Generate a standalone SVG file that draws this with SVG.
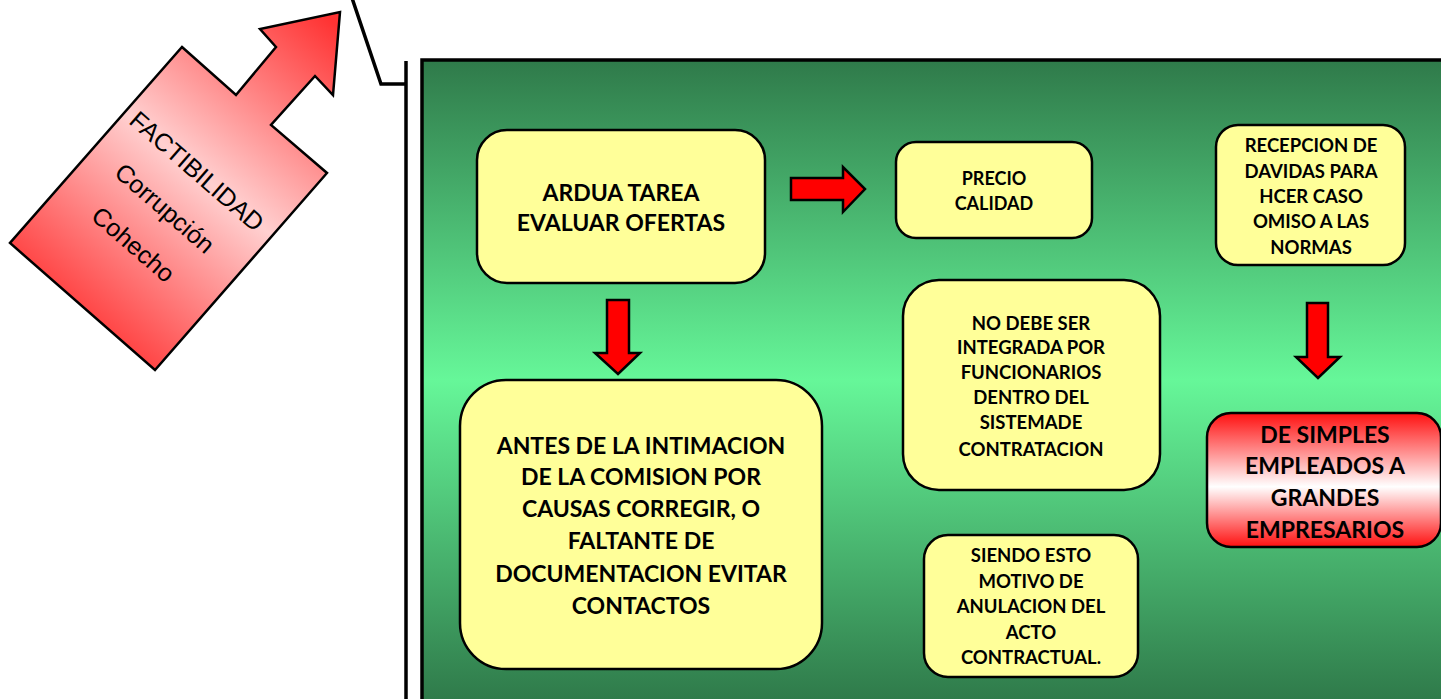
<svg xmlns="http://www.w3.org/2000/svg" width="1441" height="699" viewBox="0 0 1441 699">
<defs>
<linearGradient id="gGreen" x1="0" y1="60" x2="0" y2="700" gradientUnits="userSpaceOnUse">
<stop offset="0" stop-color="#2f7a4a"/>
<stop offset="0.5" stop-color="#66f799"/>
<stop offset="1" stop-color="#2f7a4a"/>
</linearGradient>
<linearGradient id="gRedBox" x1="0" y1="413" x2="0" y2="547" gradientUnits="userSpaceOnUse">
<stop offset="0" stop-color="#ff1010"/>
<stop offset="0.55" stop-color="#ffffff"/>
<stop offset="1" stop-color="#ff1010"/>
</linearGradient>
<linearGradient id="gArrow" x1="70" y1="330" x2="330" y2="20" gradientUnits="userSpaceOnUse">
<stop offset="0" stop-color="#ff3333"/>
<stop offset="0.5" stop-color="#ffd0d0"/>
<stop offset="1" stop-color="#ff3333"/>
</linearGradient>
<style>
.box{fill:#ffff99;stroke:#000;stroke-width:2.5}
.red{fill:#ff0000;stroke:#000;stroke-width:2.5;stroke-linejoin:miter}
.t{font-family:Lato,"Liberation Sans",sans-serif;font-weight:bold;fill:#000;text-anchor:middle}
.line{fill:none;stroke:#000;stroke-width:3.5}
</style>
</defs>
<rect width="1441" height="699" fill="#fff"/>
<g id="bracket">
<polyline class="line" points="352,-2 381,84 406,84"/>
<line class="line" x1="406" y1="61" x2="406" y2="702"/>
</g>
<g id="factibilidad">
<polygon points="182,47 236,95 276,47 260,29 340,12 333,95 315,76 271,125 327,173 155,370 10,243" fill="url(#gArrow)" stroke="#000" stroke-width="2.5" stroke-linejoin="miter"/>
<g transform="translate(165,208) rotate(41)" font-family="'Liberation Sans',Arial,sans-serif" font-size="25" text-anchor="middle" fill="#000">
<text x="0" y="-40">FACTIBILIDAD</text>
<text x="0" y="9">Corrupción</text>
<text x="0" y="57">Cohecho</text>
</g>
</g>
<g id="panel">
<rect x="422" y="60" width="1030" height="650" fill="url(#gGreen)" stroke="#000" stroke-width="3.5"/>
</g>
<g id="connectors">
<polygon class="red" points="791,178 843,178 843,167 865,189 843,212 843,200 791,200"/>
<polygon class="red" points="607,300 629,300 629,353 640,353 618,374 595,353 607,353"/>
<polygon class="red" points="1307,303 1328,303 1328,357 1340,357 1318,378 1296,357 1307,357"/>
</g>
<g id="n-ardua">
<rect class="box" x="477" y="130" width="288" height="153" rx="30"/>
<text class="t" font-size="23" x="621" y="201">ARDUA TAREA</text>
<text class="t" font-size="23" x="621" y="231">EVALUAR OFERTAS</text>
</g>
<g id="n-precio">
<rect class="box" x="896" y="142" width="196" height="96" rx="20"/>
<text class="t" font-size="18" x="994" y="184.5">PRECIO</text>
<text class="t" font-size="18" x="994" y="209.5">CALIDAD</text>
</g>
<g id="n-recepcion">
<rect class="box" x="1216" y="125" width="189" height="140" rx="22"/>
<text class="t" font-size="18.5" x="1311" y="152">RECEPCION DE</text>
<text class="t" font-size="18.5" x="1311" y="178">DAVIDAS PARA</text>
<text class="t" font-size="18.5" x="1311" y="203">HCER CASO</text>
<text class="t" font-size="18.5" x="1311" y="228">OMISO A LAS</text>
<text class="t" font-size="18.5" x="1311" y="254">NORMAS</text>
</g>
<g id="n-nodebe">
<rect class="box" x="903" y="280" width="257" height="210" rx="36"/>
<text class="t" font-size="18.5" x="1031" y="330">NO DEBE SER</text>
<text class="t" font-size="18.5" x="1031" y="354">INTEGRADA POR</text>
<text class="t" font-size="18.5" x="1031" y="379">FUNCIONARIOS</text>
<text class="t" font-size="18.5" x="1031" y="404">DENTRO DEL</text>
<text class="t" font-size="18.5" x="1031" y="429">SISTEMADE</text>
<text class="t" font-size="18.5" x="1031" y="456">CONTRATACION</text>
</g>
<g id="n-siendo">
<rect class="box" x="924" y="535" width="214" height="142" rx="24"/>
<text class="t" font-size="18.5" x="1031" y="562">SIENDO ESTO</text>
<text class="t" font-size="18.5" x="1031" y="588">MOTIVO DE</text>
<text class="t" font-size="18.5" x="1031" y="613">ANULACION DEL</text>
<text class="t" font-size="18.5" x="1031" y="639">ACTO</text>
<text class="t" font-size="18.5" x="1031" y="664">CONTRACTUAL.</text>
</g>
<g id="n-antes">
<rect class="box" x="460" y="380" width="362" height="289" rx="46"/>
<text class="t" font-size="23" x="641" y="454">ANTES DE LA INTIMACION</text>
<text class="t" font-size="23" x="641" y="485">DE LA COMISION POR</text>
<text class="t" font-size="23" x="641" y="517">CAUSAS CORREGIR, O</text>
<text class="t" font-size="23" x="641" y="549">FALTANTE DE</text>
<text class="t" font-size="23" x="641" y="582">DOCUMENTACION EVITAR</text>
<text class="t" font-size="23" x="641" y="614">CONTACTOS</text>
</g>
<g id="n-simples">
<rect x="1207" y="413" width="234" height="134" rx="24" fill="url(#gRedBox)" stroke="#000" stroke-width="2.5"/>
<text class="t" font-size="23" x="1325" y="443">DE SIMPLES</text>
<text class="t" font-size="23" x="1325" y="474">EMPLEADOS A</text>
<text class="t" font-size="23" x="1325" y="506">GRANDES</text>
<text class="t" font-size="23" x="1325" y="538">EMPRESARIOS</text>
</g>
</svg>
